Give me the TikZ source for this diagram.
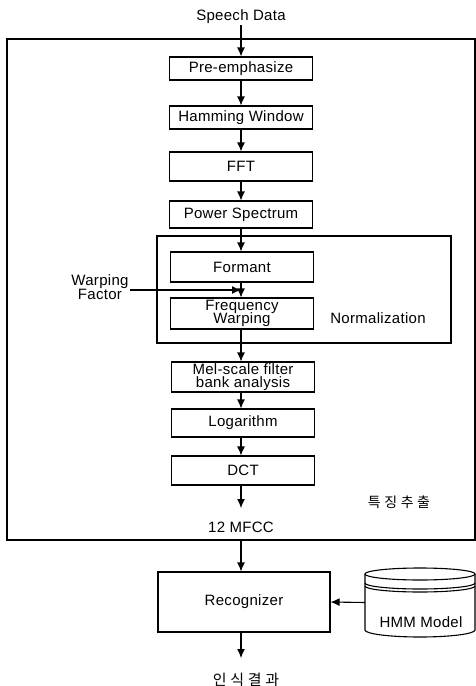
\documentclass[tikz,border=0pt]{standalone}
\usepackage{fontspec}
\setmainfont{Liberation Sans}[LetterSpace=2]
\newfontfamily\kr{Noto Sans CJK KR}[LetterSpace=25]
\usetikzlibrary{arrows.meta,calc}
\begin{document}
\begin{tikzpicture}[x=1pt,y=-1pt,
  every node/.style={font=\fontsize{15}{16.5}\selectfont},
  blk/.style={draw,line width=1.1pt,minimum width=143pt,inner sep=0pt,align=center},
  lbl/.style={inner sep=1pt,align=center},
  arr/.style={line width=1.1pt,-{Latex[length=9pt,width=8pt]}}]
\useasboundingbox (0,0) rectangle (476,686);
% frames
\draw[line width=1.3pt] (7,39) rectangle (475,540);
\draw[line width=1.1pt] (157,236) rectangle (451,343);
% nodes
\node[lbl] (speech) at (241,17) {Speech Data};
\node[blk,minimum height=23pt] (pre) at (241,68.5) {Pre-emphasize};
\node[blk,minimum height=23pt] (ham) at (241,117.5) {Hamming Window};
\node[blk,minimum height=29pt] (fft) at (241,166.5) {FFT};
\node[blk,minimum height=27pt] (pow) at (241,214.5) {Power Spectrum};
\node[blk,minimum height=30pt] (formant) at (242,267) {Formant};
\node[blk,minimum height=31pt] (fw) at (242,313.5) {Frequency\\[-3pt]Warping};
\node[lbl] (norm) at (378,318) {Normalization};
\node[lbl] (wf) at (100,287) {Warping\\[-2pt]Factor};
\node[blk,minimum height=30pt] (mel) at (243,377) {Mel-scale filter\\[-3pt]bank analysis};
\node[blk,minimum height=28pt] (log) at (243,423) {Logarithm};
\node[blk,minimum height=29pt] (dct) at (243,470.5) {DCT};
\node[lbl] (mfcc) at (241,527) {12 MFCC};
\node[lbl,font=\kr\fontsize{14}{15}\selectfont] (feat) at (399,502) {특징추출};
\node[draw,line width=1.1pt,minimum width=172pt,minimum height=60pt,inner sep=0pt] (rec) at (244,602) {Recognizer};
\node[minimum width=110pt,minimum height=69pt,inner sep=0pt] (hmm) at (420,602.5) {};
\node[lbl] (hmmtxt) at (421,622) {HMM Model};
\node[lbl,font=\kr\fontsize{15}{16}\selectfont] (res) at (246,680) {인식결과};
% cylinder
\draw[line width=1.1pt] (420,574) ellipse[x radius=55, y radius=6];
\draw[line width=1.1pt] (365,583) arc[start angle=180,end angle=0,x radius=55,y radius=6];
\draw[line width=1.1pt] (365,586) arc[start angle=180,end angle=0,x radius=55,y radius=6];
\draw[line width=1.1pt] (365,574) -- (365,630) arc[start angle=180,end angle=0,x radius=55,y radius=7] -- (475,574);
% coordinates
\coordinate (mid) at ($(formant.south)!0.5!(fw.north)$);
\coordinate (dctend) at (241,508);
\coordinate (outbot) at (241,540);
\coordinate (resend) at (241,658);
% connectors
\draw[arr] (speech.south -| pre.north) -- (pre.north);
\draw[arr] (pre) -- (ham);
\draw[arr] (ham) -- (fft);
\draw[arr] (fft) -- (pow);
\draw[arr] (pow.south) -- (pow.south |- formant.north);
\draw[arr] (pow.south |- formant.south) -- (pow.south |- fw.north);
\draw[arr] (wf.east |- mid) -- (pow.south |- mid);
\draw[arr] (pow.south |- fw.south) -- (pow.south |- mel.north);
\draw[arr] (pow.south |- mel.south) -- (pow.south |- log.north);
\draw[arr] (pow.south |- log.south) -- (pow.south |- dct.north);
\draw[arr] (pow.south |- dct.south) -- (dctend);
\draw[arr] (outbot) -- (outbot |- rec.north);
\draw[arr] (hmm.west) -- (rec.east);
\draw[arr] (outbot |- rec.south) -- (resend);
\end{tikzpicture}
\end{document}
